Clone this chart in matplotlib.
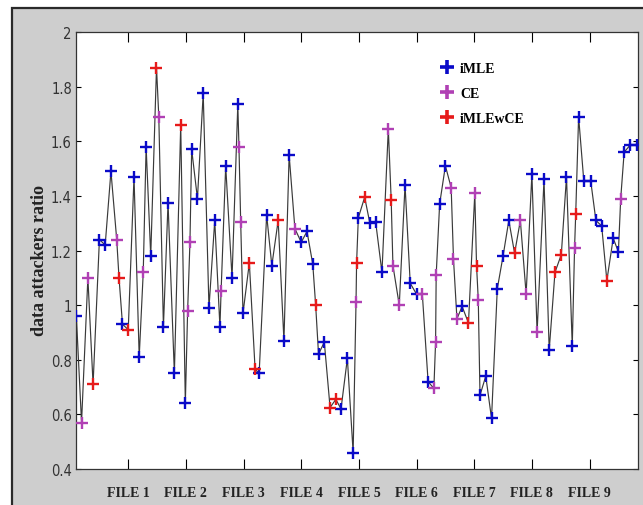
import matplotlib
matplotlib.use("Agg")
import matplotlib.pyplot as plt
from matplotlib.lines import Line2D
from matplotlib.patches import Rectangle

# points along the run, in plotting order
x_pos = [1.0, 1.9, 3.0, 3.9, 5.0, 6.0, 7.0, 8.0, 8.4, 9.0,
         10.0, 11.0, 11.9, 12.6, 13.1, 13.9, 14.9, 15.3, 16.1, 16.9,
         18.0, 19.1, 19.9, 20.3, 20.7, 21.0, 22.0, 23.0, 24.0, 25.0,
         25.9, 26.1, 26.9, 28.0, 29.0, 29.2, 29.5, 29.9, 31.0, 32.0,
         32.7, 34.0, 34.9, 36.0, 37.0, 37.9, 38.9, 40.0, 41.0, 42.0,
         42.5, 43.0, 44.0, 45.0, 46.0, 46.9, 48.0, 49.0, 49.5, 49.6,
         49.9, 51.0, 51.9, 52.9, 54.0, 55.1, 55.6, 55.9, 57.0, 58.0,
         58.9, 60.0, 61.0, 62.0, 63.0, 63.3, 63.4, 64.0, 65.0, 66.0,
         66.4, 67.0, 67.9, 69.0, 70.1, 70.4, 70.7, 71.0, 72.0, 73.0,
         74.0, 75.0, 76.0, 77.0, 78.0, 79.0, 80.0, 80.9, 82.1, 83.0,
         84.0, 85.1, 86.0, 87.0, 87.4, 87.6, 88.1, 89.0, 90.2, 91.1,
         92.1, 93.0, 94.1, 95.0, 95.4, 96.0, 97.0, 98.2]
ratio = [0.96, 0.57, 1.10, 0.71, 1.24, 1.22, 1.49, 1.24, 1.10, 0.93,
         0.91, 1.47, 0.81, 1.12, 1.58, 1.18, 1.87, 1.69, 0.92, 1.375,
         0.75, 1.66, 0.64, 0.98, 1.23, 1.57, 1.39, 1.775, 0.99, 1.31,
         0.92, 1.05, 1.51, 1.10, 1.735, 1.58, 1.305, 0.97, 1.155, 0.765,
         0.75, 1.33, 1.145, 1.31, 0.87, 1.55, 1.28, 1.23, 1.27, 1.15,
         1.00, 0.82, 0.865, 0.625, 0.655, 0.62, 0.805, 0.46, 1.01, 1.155,
         1.32, 1.395, 1.30, 1.305, 1.12, 1.645, 1.385, 1.145, 1.00, 1.44,
         1.08, 1.04, 1.04, 0.72, 0.695, 0.865, 1.11, 1.37, 1.51, 1.43,
         1.17, 0.95, 0.995, 0.935, 1.41, 1.145, 1.02, 0.67, 0.74, 0.585,
         1.06, 1.18, 1.31, 1.19, 1.31, 1.04, 1.48, 0.90, 1.46, 0.835,
         1.12, 1.185, 1.47, 0.85, 1.21, 1.335, 1.69, 1.455, 1.455, 1.31,
         1.29, 1.09, 1.245, 1.195, 1.39, 1.56, 1.585, 1.585]
method = ["iMLE", "CE", "CE", "iMLEwCE", "iMLE", "iMLE", "iMLE", "CE", "iMLEwCE", "iMLE",
          "iMLEwCE", "iMLE", "iMLE", "CE", "iMLE", "iMLE", "iMLEwCE", "CE", "iMLE", "iMLE",
          "iMLE", "iMLEwCE", "iMLE", "CE", "CE", "iMLE", "iMLE", "iMLE", "iMLE", "iMLE",
          "iMLE", "CE", "iMLE", "iMLE", "iMLE", "CE", "CE", "iMLE", "iMLEwCE", "iMLEwCE",
          "iMLE", "iMLE", "iMLE", "iMLEwCE", "iMLE", "iMLE", "CE", "iMLE", "iMLE", "iMLE",
          "iMLEwCE", "iMLE", "iMLE", "iMLEwCE", "iMLEwCE", "iMLE", "iMLE", "iMLE", "CE", "iMLEwCE",
          "iMLE", "iMLEwCE", "iMLE", "iMLE", "iMLE", "CE", "iMLEwCE", "CE", "CE", "iMLE",
          "iMLE", "iMLE", "CE", "iMLE", "CE", "CE", "CE", "iMLE", "iMLE", "CE",
          "CE", "CE", "iMLE", "iMLEwCE", "CE", "iMLEwCE", "CE", "iMLE", "iMLE", "iMLE",
          "iMLE", "iMLE", "iMLE", "iMLEwCE", "CE", "CE", "iMLE", "CE", "iMLE", "iMLE",
          "iMLEwCE", "iMLEwCE", "iMLE", "iMLE", "CE", "iMLEwCE", "iMLE", "iMLE", "iMLE", "iMLE",
          "iMLE", "iMLEwCE", "iMLE", "iMLE", "CE", "iMLE", "iMLE", "iMLE"]

methods = ["iMLE", "CE", "iMLEwCE"]
colors = {"iMLE": "#0a0ac8", "CE": "#b040b4", "iMLEwCE": "#e61a1a"}

file_pos = [10, 20, 30, 40, 50, 60, 70, 80, 90]
file_labels = ["FILE 1", "FILE 2", "FILE 3", "FILE 4", "FILE 5",
               "FILE 6", "FILE 7", "FILE 8", "FILE 9"]

fig = plt.figure(figsize=(6.43, 5.06), dpi=100, facecolor="white")
# grey window panel with dark edge, behind the axes
fig.patches.append(Rectangle((12 / 643, -0.1), 1.2, 1 - 9 / 506 + 0.1,
                             transform=fig.transFigure, facecolor="#cecece",
                             edgecolor="#2a2a2a", lw=1.6, zorder=-10))

ax = fig.add_axes([76 / 643, 1 - 470 / 506, 562 / 643, 437 / 506])
ax.plot(x_pos, ratio, color="#3a3a3a", lw=0.85, zorder=2)
for m in methods:
    xs = [x for x, k in zip(x_pos, method) if k == m]
    ys = [y for y, k in zip(ratio, method) if k == m]
    ax.plot(xs, ys, linestyle="none", marker="+", markersize=8, mew=1.7,
            color=colors[m], zorder=3)

ax.set_xlim(0.94, 98.4)
ax.set_ylim(0.4, 2.0)
ax.set_yticks([0.4, 0.6, 0.8, 1.0, 1.2, 1.4, 1.6, 1.8, 2.0])
ax.set_yticklabels(["0.4", "0.6", "0.8", "1", "1.2", "1.4", "1.6", "1.8", "2"])
ax.set_xticks(file_pos)
ax.set_xticklabels(file_labels, family=["Liberation Serif", "DejaVu Serif"],
                   fontweight="bold", fontsize=10, color="#222222")
for lab in ax.get_yticklabels():
    lab.set_family(["DejaVu Sans"])
    lab.set_fontstretch("condensed")
    lab.set_fontsize(10.5)
    lab.set_color("#333333")

ax.tick_params(axis="x", direction="in", length=7, width=0.8, top=True, pad=12)
ax.tick_params(axis="y", direction="in", length=3.5, width=0.8, right=True, pad=3)
for s in ax.spines.values():
    s.set_linewidth(0.9)
    s.set_color("#333333")

ax.set_ylabel("data attackers ratio", family=["Liberation Serif", "DejaVu Serif"],
              fontweight="bold", fontsize=13, color="#222222")
ax.yaxis.set_label_coords(-0.05, 0.48)

handles = [Line2D([], [], linestyle="none", marker="+", markersize=10, mew=2.6,
                  color=colors[m]) for m in methods]
ax.legend(handles, methods, frameon=False, loc="upper left",
          bbox_to_anchor=(0.625, 0.96), handlelength=1.0, handletextpad=0.45,
          labelspacing=0.85,
          prop={"family": ["Liberation Serif", "DejaVu Serif"], "weight": "bold", "size": 10})

fig.savefig("out.png", dpi=100, facecolor=fig.get_facecolor())
